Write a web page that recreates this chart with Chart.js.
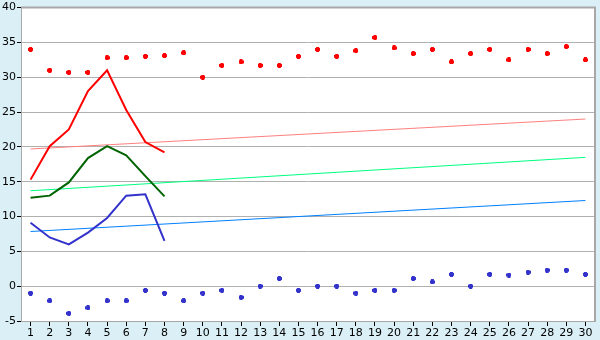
<!DOCTYPE html>
<html>
<head>
<meta charset="utf-8">
<script src="https://cdn.jsdelivr.net/npm/chart.js@4/dist/chart.umd.min.js"></script>
<style>
  html, body { margin: 0; padding: 0; background: #daeff6; }
  #wrap { width: 600px; height: 340px; }
</style>
</head>
<body>
<div id="wrap"><canvas id="tempChart" width="600" height="340"></canvas></div>
<script>
// --- data ---
const days = ['1','2','3','4','5','6','7','8','9','10','11','12','13','14','15',
              '16','17','18','19','20','21','22','23','24','25','26','27','28','29','30'];

const maxPoints = [34.0, 31.0, 30.7, 30.7, 32.8, 32.8, 33.0, 33.1, 33.5, 30.0,
                   31.7, 32.2, 31.7, 31.7, 33.0, 34.0, 33.0, 33.8, 35.7, 34.2,
                   33.4, 34.0, 32.2, 33.4, 34.0, 32.5, 34.0, 33.4, 34.4, 32.5];
const minPoints = [-1.0, -2.1, -3.9, -3.1, -2.1, -2.1, -0.6, -1.0, -2.1, -1.0,
                   -0.6, -1.6, 0.0, 1.1, -0.6, 0.0, 0.0, -1.0, -0.6, -0.6,
                   1.1, 0.6, 1.7, 0.0, 1.7, 1.6, 2.0, 2.3, 2.3, 1.7];

const redLine   = [15.3, 20.1, 22.5, 28.0, 31.0, 25.3, 20.7, 19.2];
const greenLine = [12.7, 13.0, 14.9, 18.4, 20.1, 18.8, 15.8, 12.9];
const blueLine  = [9.1, 7.0, 6.0, 7.7, 9.8, 13.0, 13.2, 6.5];

// trend lines: value at first and last day
const trendDays  = ['1', '30'];
const redTrend   = [19.7, 24.0];
const greenTrend = [13.7, 18.5];
const blueTrend  = [7.85, 12.3];

const yTicks = [-5, 0, 5, 10, 15, 20, 25, 30, 35, 40];

// small plus-shaped marker
function makeMarker(color) {
    const c = document.createElement('canvas');
    c.width = 5; c.height = 5;
    const g = c.getContext('2d');
    g.fillStyle = color;
    g.fillRect(1, 0, 3, 5);
    g.fillRect(0, 1, 5, 3);
    return c;
}

function trendData(vals) {
    return trendDays.map((d, i) => ({ x: d, y: vals[i] }));
}

// white plot area + grey frame
const plotBg = {
    id: 'plotBg',
    beforeDraw(chart) {
        const { ctx, chartArea: a } = chart;
        ctx.save();
        ctx.fillStyle = '#ffffff';
        ctx.fillRect(a.left, a.top, a.right - a.left, a.bottom - a.top);
        ctx.restore();
    },
    afterDraw(chart) {
        const { ctx, chartArea: a } = chart;
        ctx.save();
        ctx.strokeStyle = '#a8a8a8';
        ctx.lineWidth = 2;
        ctx.beginPath();
        ctx.moveTo(a.left, a.top);
        ctx.lineTo(a.right, a.top);
        ctx.lineTo(a.right, a.bottom);
        ctx.stroke();
        ctx.restore();
    }
};

function lineSet(data, color, width, order) {
    return {
        data: data,
        borderColor: color,
        backgroundColor: color,
        borderWidth: width,
        pointRadius: 0,
        tension: 0,
        fill: false,
        order: order
    };
}

function pointSet(data, color) {
    return {
        data: data,
        showLine: false,
        pointStyle: makeMarker(color),
        pointRadius: 3,
        borderColor: color,
        backgroundColor: color,
        order: 2
    };
}

const ctx = document.getElementById('tempChart').getContext('2d');
new Chart(ctx, {
    type: 'line',
    data: {
        labels: days,
        datasets: [
            lineSet(redLine, '#ff0000', 2, 1),
            lineSet(greenLine, '#006400', 2, 1),
            lineSet(blueLine, '#3333cc', 2, 1),
            pointSet(maxPoints, '#ff0000'),
            pointSet(minPoints, '#3333cc'),
            lineSet(trendData(redTrend), '#ff8080', 1, 3),
            lineSet(trendData(greenTrend), '#00ff80', 1, 3),
            lineSet(trendData(blueTrend), '#0080ff', 1, 3)
        ]
    },
    options: {
        responsive: false,
        animation: false,
        events: [],
        layout: { padding: { top: 5, right: 5, left: 0, bottom: 0 } },
        plugins: { legend: { display: false }, tooltip: { enabled: false } },
        scales: {
            x: {
                offset: true,
                grid: { drawOnChartArea: false, tickLength: 5, tickColor: '#000000', offset: false },
                border: { color: '#a8a8a8', width: 1 },
                ticks: { color: '#000000', font: { family: 'DejaVu Sans', size: 11 }, padding: 1, maxRotation: 0, autoSkip: false },
                afterFit(scale) { scale.height = 19; }
            },
            y: {
                min: -5,
                max: 40,
                afterBuildTicks(scale) { scale.ticks = yTicks.map(v => ({ value: v })); },
                grid: { color: '#b0b0b0', tickLength: 4, tickColor: '#000000' },
                border: { color: '#a8a8a8', width: 1 },
                ticks: { color: '#000000', font: { family: 'DejaVu Sans', size: 11 }, padding: 1 },
                afterFit(scale) { scale.width = 21; }
            }
        }
    },
    plugins: [plotBg]
});
</script>
</body>
</html>
